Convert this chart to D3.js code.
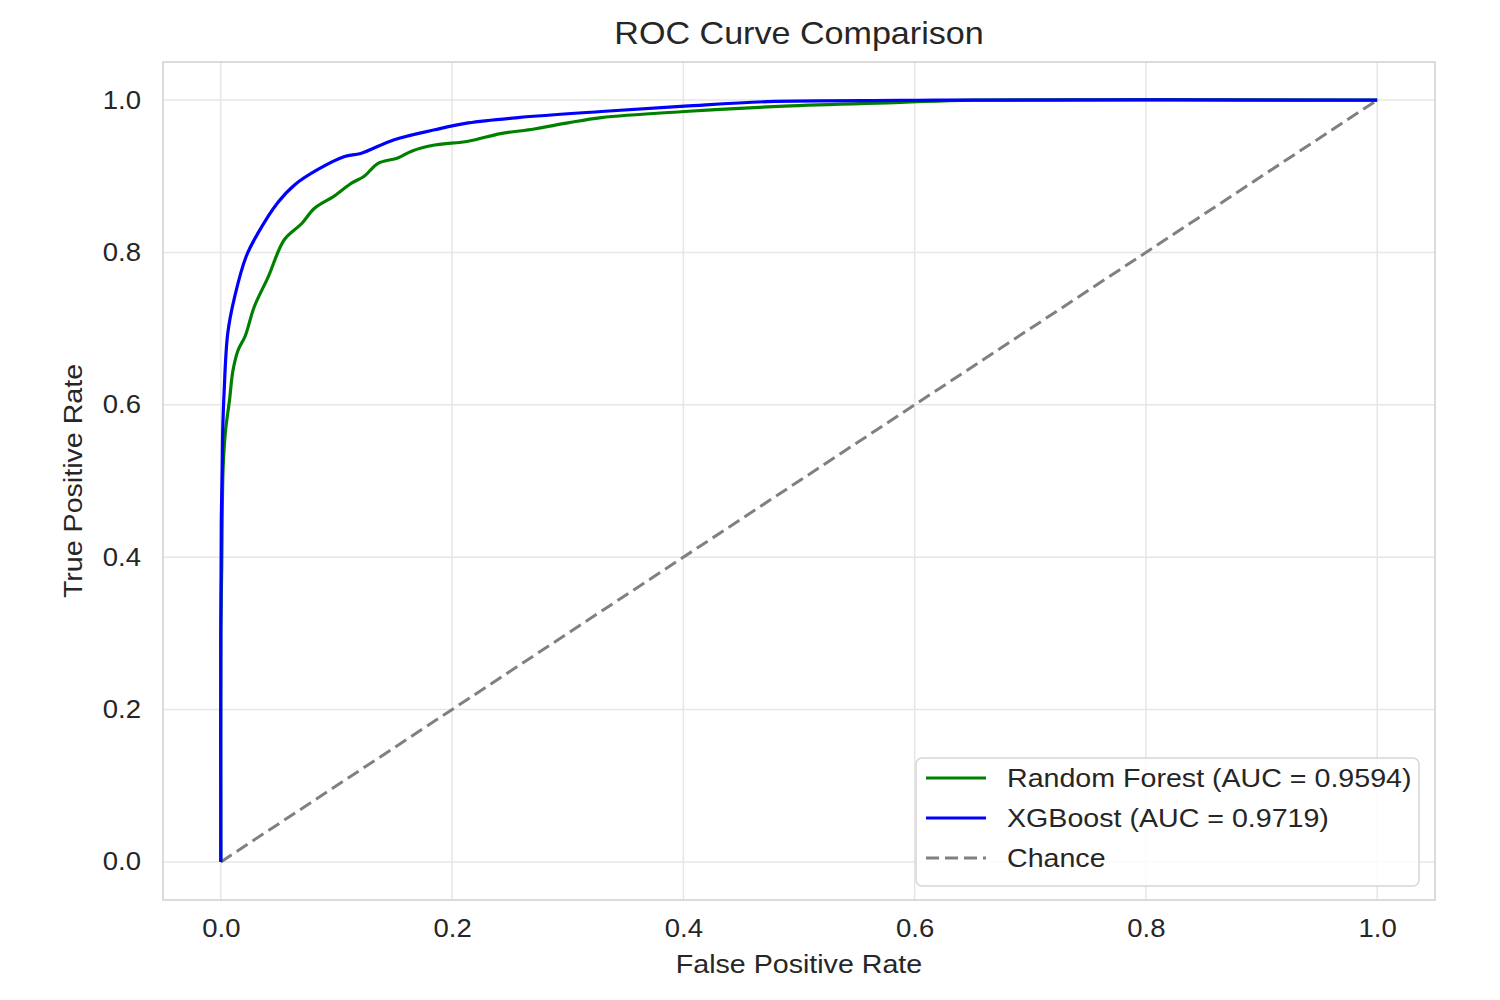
<!DOCTYPE html>
<html>
<head>
<meta charset="utf-8">
<script src="https://cdn.jsdelivr.net/npm/d3@7"></script>
<style>
  body { margin:0; background:#fff; }
  text { font-family: "Liberation Sans", Arial, sans-serif; fill:#262626; }
</style>
</head>
<body>
<div id="chart"></div>
<script>
// ROC points
var rfFpr  = [0, 0, 0.0008, 0.002, 0.004, 0.0075, 0.0105, 0.015, 0.021, 0.029, 0.041, 0.055, 0.070, 0.081, 0.098, 0.113, 0.124, 0.136, 0.153, 0.165, 0.185, 0.214, 0.242, 0.271, 0.300, 0.329, 0.401, 0.487, 0.588, 0.65, 1.0]
var rfTpr  = [0, 0.30, 0.387, 0.518, 0.565, 0.606, 0.645, 0.672, 0.690, 0.729, 0.768, 0.817, 0.838, 0.858, 0.874, 0.891, 0.900, 0.917, 0.924, 0.933, 0.941, 0.946, 0.956, 0.962, 0.970, 0.977, 0.985, 0.992, 0.997, 1.0, 1.0]
var xgbFpr = [0, 0, 0.0004, 0.0012, 0.0016, 0.0028, 0.006, 0.012, 0.022, 0.032, 0.049, 0.064, 0.084, 0.107, 0.121, 0.150, 0.185, 0.214, 0.257, 0.329, 0.401, 0.473, 0.588, 0.62, 1.0]
var xgbTpr = [0, 0.30, 0.45, 0.518, 0.563, 0.615, 0.694, 0.742, 0.795, 0.825, 0.865, 0.889, 0.909, 0.926, 0.930, 0.948, 0.961, 0.970, 0.977, 0.985, 0.992, 0.998, 0.9995, 1.0, 1.0]
var chanceX = [0, 1]
var chanceY = [0, 1]

var seriesNames  = ['Random Forest (AUC = 0.9594)', 'XGBoost (AUC = 0.9719)', 'Chance']
var seriesColors = ['green', 'blue', 'gray']
var ticks = [0, 0.2, 0.4, 0.6, 0.8, 1.0]

var W = 1500, H = 1000
var m = { top:62, right:65, bottom:100, left:163 }
var sx = 1.1   // text in the picture runs a little wider than Liberation Sans

var svg = d3.select('#chart').append('svg')
    .attr('width', W).attr('height', H)

svg.append('rect').attr('width', W).attr('height', H).attr('fill', '#fff')

var x = d3.scaleLinear().domain([-0.05, 1.05]).range([m.left, W - m.right])
var y = d3.scaleLinear().domain([-0.05, 1.05]).range([H - m.bottom, m.top])

// grid
var grid = svg.append('g')
grid.selectAll('.gx').data(ticks).enter().append('line')
    .attr('x1', d=> x(d)).attr('x2', d=> x(d))
    .attr('y1', m.top).attr('y2', H - m.bottom)
    .attr('stroke', '#e6e6e6').attr('stroke-width', 1.5)
grid.selectAll('.gy').data(ticks).enter().append('line')
    .attr('y1', d=> y(d)).attr('y2', d=> y(d))
    .attr('x1', m.left).attr('x2', W - m.right)
    .attr('stroke', '#e6e6e6').attr('stroke-width', 1.5)

// axes (labels only, seaborn whitegrid has no tick marks)
var xAxis = svg.append('g')
    .attr('transform', 'translate(0,' + (H - m.bottom) + ')')
    .call(d3.axisBottom(x).tickValues(ticks).tickFormat(d3.format('.1f')).tickSize(0).tickPadding(19))
var yAxis = svg.append('g')
    .attr('transform', 'translate(' + m.left + ',0)')
    .call(d3.axisLeft(y).tickValues(ticks).tickFormat(d3.format('.1f')).tickSize(0).tickPadding(20))
;[xAxis, yAxis].forEach(a=> {
    a.select('.domain').remove()
    a.selectAll('text').style('font-size', '25px').attr('fill', '#262626')
        .attr('transform', 'scale(' + sx + ',1)')
})

// frame
svg.append('rect')
    .attr('x', m.left).attr('y', m.top)
    .attr('width', W - m.left - m.right).attr('height', H - m.top - m.bottom)
    .attr('fill', 'none').attr('stroke', '#d0d0d0').attr('stroke-width', 1.5)

// curves
var line = d3.line().x(d=> x(d[0])).y(d=> y(d[1]))
var smooth = d3.line().x(d=> x(d[0])).y(d=> y(d[1])).curve(d3.curveCatmullRom.alpha(0.5))
var curves = svg.append('g')

curves.append('path')
    .datum(d3.zip(chanceX, chanceY))
    .attr('d', line).attr('fill', 'none')
    .attr('stroke', 'gray').attr('stroke-width', 3).attr('stroke-dasharray', '13,6')
curves.append('path')
    .datum(d3.zip(rfFpr, rfTpr))
    .attr('d', smooth).attr('fill', 'none')
    .attr('stroke', 'green').attr('stroke-width', 3.2).attr('stroke-linejoin', 'round')
curves.append('path')
    .datum(d3.zip(xgbFpr, xgbTpr))
    .attr('d', smooth).attr('fill', 'none')
    .attr('stroke', 'blue').attr('stroke-width', 3.2).attr('stroke-linejoin', 'round')

// title + axis labels
var cx = (x(-0.05) + x(1.05)) / 2
svg.append('text').attr('transform', 'translate(' + cx + ',44) scale(' + sx + ',1)')
    .attr('text-anchor', 'middle').style('font-size', '31px')
    .text('ROC Curve Comparison')
svg.append('text').attr('transform', 'translate(' + cx + ',973) scale(' + sx + ',1)')
    .attr('text-anchor', 'middle').style('font-size', '26px')
    .text('False Positive Rate')
svg.append('text')
    .attr('transform', 'translate(82,' + ((y(-0.05) + y(1.05)) / 2) + ') rotate(-90) scale(' + sx + ',1)')
    .attr('text-anchor', 'middle').style('font-size', '26px')
    .text('True Positive Rate')

// legend
var lg = svg.append('g').attr('transform', 'translate(916,758)')
lg.append('rect').attr('width', 503).attr('height', 128).attr('rx', 6)
    .attr('fill', '#fff').attr('fill-opacity', 0.85)
    .attr('stroke', '#d6d6d6').attr('stroke-width', 1.5)
var items = lg.selectAll('.item').data(seriesNames).enter().append('g')
    .attr('transform', (d, i)=> 'translate(0,' + (20 + i * 40) + ')')
items.append('line').attr('x1', 10).attr('x2', 70)
    .attr('stroke', (d, i)=> seriesColors[i]).attr('stroke-width', 3)
    .attr('stroke-dasharray', (d, i)=> i == 2 ? '13,6' : null)
items.append('text').attr('transform', 'translate(91,0) scale(' + sx + ',1)').attr('dy', '0.35em')
    .style('font-size', '26px')
    .text(d=> d)
</script>
</body>
</html>
